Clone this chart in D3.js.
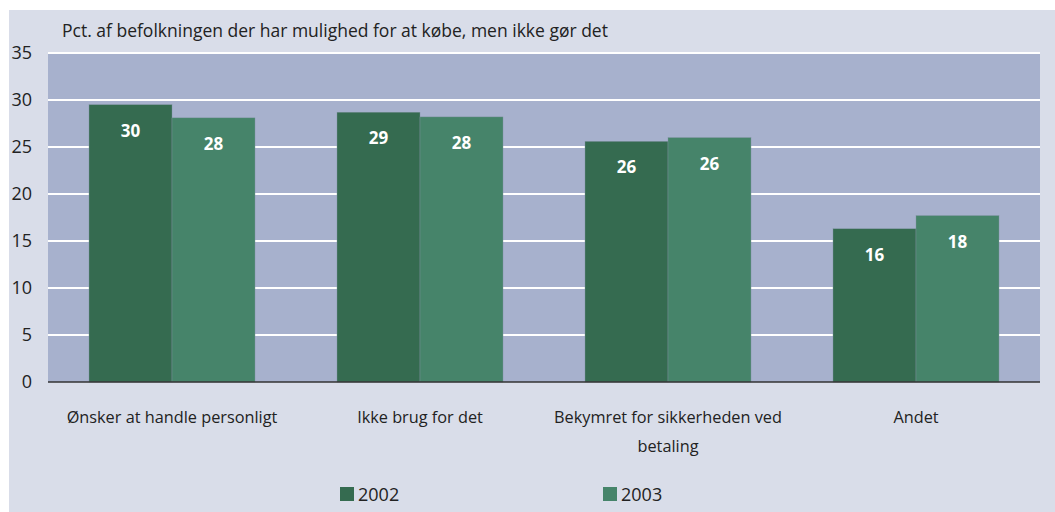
<!DOCTYPE html>
<html>
<head>
<meta charset="utf-8">
<script src="https://cdn.jsdelivr.net/npm/d3@7"></script>
<style>
  body { margin: 0; background: #fff; }
  text { font-family: "Open Sans", sans-serif; fill: #222; }
</style>
</head>
<body>
<script>
var categories = ['Ønsker at handle personligt', 'Ikke brug for det', 'Bekymret for sikkerheden ved betaling', 'Andet'];
var years = ['2002', '2003'];
var values2002 = [29.5, 28.7, 25.6, 16.3];
var values2003 = [28.1, 28.2, 26.0, 17.7];
var labels2002 = ['30', '29', '26', '16'];
var labels2003 = ['28', '28', '26', '18'];
var yTicks = [0, 5, 10, 15, 20, 25, 30, 35];

var W = 1055, H = 512;
var margin = {top: 53, right: 15, bottom: 130, left: 48};
var width = W - margin.left - margin.right,
    height = H - margin.top - margin.bottom;

var color = d3.scaleOrdinal().domain(years).range(['#356b50', '#46846a']);

var svg = d3.select('body').append('svg')
    .attr('width', W)
    .attr('height', H);

// light background frame
svg.append('rect')
    .attr('x', 9).attr('y', 10)
    .attr('width', W - 9).attr('height', H - 10)
    .attr('fill', '#d9dde9');

var g = svg.append('g')
    .attr('transform', 'translate(' + margin.left + ',' + margin.top + ')');

var x0 = d3.scaleBand().domain(categories).range([0, width]);
var x1 = d3.scaleBand().domain(years).range([41, x0.bandwidth() - 41]);
var y = d3.scaleLinear().domain([0, 35]).range([height, 0]);

g.append('rect')
    .attr('width', width).attr('height', height)
    .attr('fill', '#a7b1cd');

// gridlines
g.selectAll('.grid')
    .data(yTicks.filter(function(d) { return d > 0; }))
    .enter().append('line')
    .attr('x1', 0).attr('x2', width)
    .attr('y1', function(d) { return y(d); })
    .attr('y2', function(d) { return y(d); })
    .attr('stroke', '#fff')
    .attr('stroke-width', 2);

var data = categories.map(function(c, i) {
  return {cat: c, vals: [
    {year: '2002', v: values2002[i], label: labels2002[i]},
    {year: '2003', v: values2003[i], label: labels2003[i]}
  ]};
});

var groups = g.selectAll('.cat')
    .data(data)
    .enter().append('g')
    .attr('transform', function(d) { return 'translate(' + x0(d.cat) + ',0)'; });

groups.selectAll('rect')
    .data(function(d) { return d.vals; })
    .enter().append('rect')
    .attr('x', function(d) { return x1(d.year); })
    .attr('y', function(d) { return y(d.v); })
    .attr('width', x1.bandwidth())
    .attr('height', function(d) { return height - y(d.v); })
    .attr('fill', function(d) { return color(d.year); })
    .attr('stroke', '#7f93a0')
    .attr('stroke-width', 0.4);

groups.selectAll('.lbl')
    .data(function(d) { return d.vals; })
    .enter().append('text')
    .attr('x', function(d) { return x1(d.year) + x1.bandwidth() / 2; })
    .attr('y', function(d) { return y(d.v) + 32; })
    .attr('text-anchor', 'middle')
    .style('fill', '#fff')
    .style('font-weight', 'bold')
    .style('font-size', '17px')
    .text(function(d) { return d.label; });

// zero axis line
g.append('line')
    .attr('x1', 0).attr('x2', width)
    .attr('y1', height).attr('y2', height)
    .attr('stroke', '#333').attr('stroke-width', 1.5);

// y axis labels
var yAxis = d3.axisLeft(y).tickValues(yTicks).tickSize(0).tickPadding(16);
var ya = g.append('g').call(yAxis);
ya.select('.domain').remove();
ya.selectAll('text')
    .style('font-size', '18px')
    .style('font-family', '"Open Sans", sans-serif')
    .style('fill', '#222');

// category labels
var xAxis = d3.axisBottom(x0).tickSize(0).tickPadding(0);
var xa = g.append('g').attr('transform', 'translate(0,' + height + ')').call(xAxis);
xa.select('.domain').remove();
xa.selectAll('text').remove();
xa.selectAll('.tick').each(function(d) {
  var t = d3.select(this).append('text')
      .attr('text-anchor', 'middle')
      .style('font-size', '16.3px');
  var lines = d === 'Bekymret for sikkerheden ved betaling'
      ? ['Bekymret for sikkerheden ved', 'betaling'] : [d];
  lines.forEach(function(l, i) {
    t.append('tspan').attr('x', 0).attr('y', 41 + i * 29).text(l);
  });
});

// title
svg.append('text')
    .attr('x', 62).attr('y', 37)
    .style('font-size', '17.5px')
    .text('Pct. af befolkningen der har mulighed for at købe, men ikke gør det');

// legend
var legend = svg.append('g').attr('transform', 'translate(340,487)');
years.forEach(function(yr, i) {
  var row = legend.append('g').attr('transform', 'translate(' + (i * 263) + ',0)');
  row.append('rect').attr('width', 14).attr('height', 14).attr('fill', color(yr));
  row.append('text').attr('x', 18).attr('y', 14).style('font-size', '18px').text(yr);
});
</script>
</body>
</html>
